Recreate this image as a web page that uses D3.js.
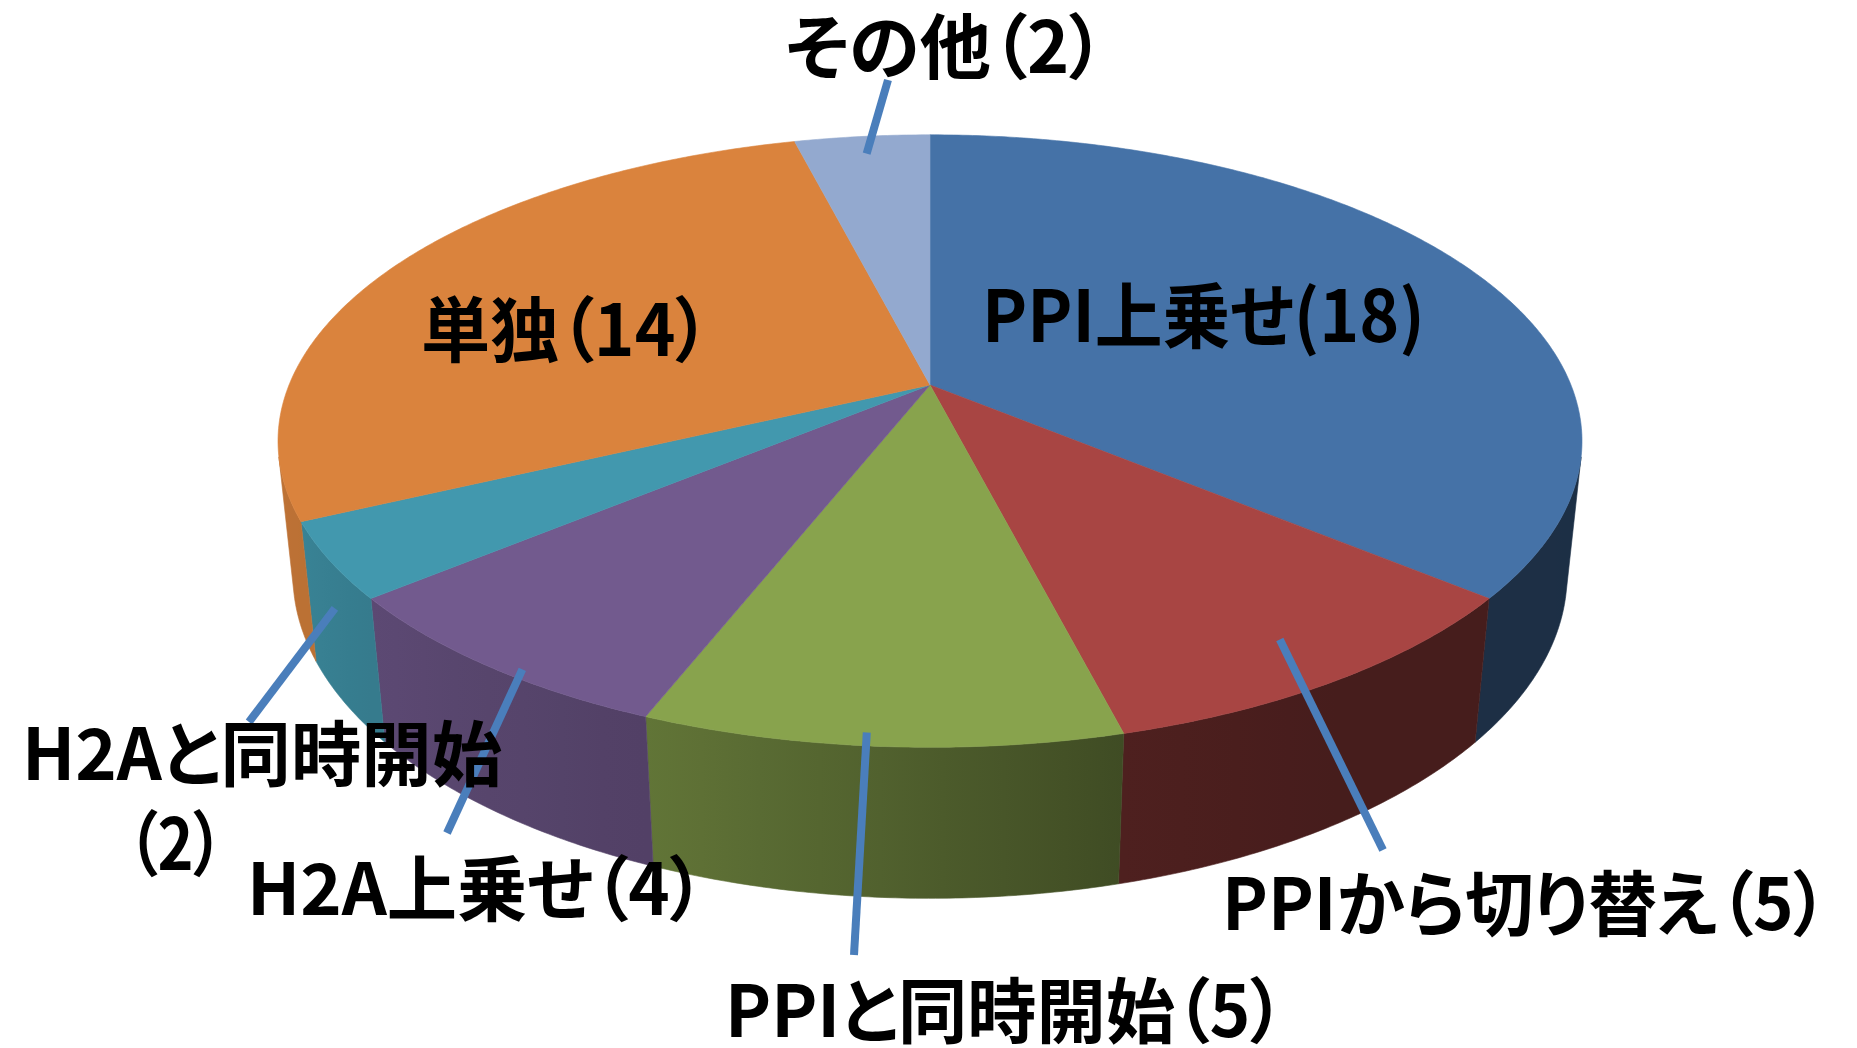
<!DOCTYPE html>
<html>
<head>
<meta charset="utf-8">
<script src="https://cdnjs.cloudflare.com/ajax/libs/d3/7.8.5/d3.min.js"></script>
<style>
  body { margin: 0; background: #fff; }
  text { font-family: "Noto Sans CJK JP", "Noto Sans", sans-serif; font-weight: 700; fill: #000; font-feature-settings: "palt"; }
</style>
</head>
<body>
<svg width="1857" height="1048"></svg>
<script>
// data, clockwise from 12 o'clock
var categories = ["PPI上乗せ", "PPIから切り替え", "PPIと同時開始", "H2A上乗せ", "H2Aと同時開始", "単独", "その他"];
var counts = [18, 5, 5, 4, 2, 14, 2];
var colors = ["#4572A7", "#A84543", "#88A34D", "#725A8E", "#4298AE", "#DA833D", "#93A9CF"];

// where each label sits (baseline x,y and width), and its leader line
var labelLayout = [
  {x: 982, y: 342, w: 443, half: true},
  {x: 1222, y: 930, w: 606, lead: {da: 0, r: 0.88, d: 0, to: [1383, 850]}},
  {x: 725, y: 1037, w: 560, lead: {da: 1.2, r: 0.97, d: 0, to: [854, 955]}},
  {x: 247, y: 915, w: 458, lead: {da: -2.5, r: 0.98, d: 0, to: [447, 833]}},
  {x: 22, y: 780, w: 480, wrap: {x: 127, y: 870, w: 97}, lead: {da: 0, r: 1, d: 0.33, to: [249, 722]}},
  {x: 421, y: 356, w: 289},
  {x: 785, y: 73, w: 320, lead: {da: 0, r: 0.92, d: 0, to: [888, 80]}}
];

var svg = d3.select("svg");
var defs = svg.append("defs");

// perspective camera, lengths in units of camera distance
var cx = 930, cy = 385,
  F = 3107, R = 0.2063, T = 0.049,
  tilt = 27.5 * Math.PI / 180;

function project(a, r, depth) {
  var X = r * R * Math.sin(a), Z = r * R * Math.cos(a), Y = -depth * T;
  var fwd = Z * Math.cos(tilt) - Y * Math.sin(tilt),
    up = Z * Math.sin(tilt) + Y * Math.cos(tilt),
    s = F / (1 + fwd);
  return [cx + X * s, cy - up * s];
}

var pie = d3.pie().sort(null).value(function(d) { return d; });
var arcs = pie(counts);
var line = d3.line();
var rad = Math.PI / 180;

// visible part of the outer wall
var visLo = Math.acos(-R / Math.cos(tilt)), visHi = 2 * Math.PI - visLo;

// wall shading by angle (degrees)
var shade = d3.scaleLinear()
  .domain([100, 150, 165, 200, 230, 245, 260])
  .range([0.41, 0.42, 0.46, 0.71, 0.81, 0.86, 0.88])
  .clamp(true);

function darken(c, f) {
  var k = d3.rgb(c);
  return d3.rgb(k.r * f, k.g * f, k.b * f).formatHex();
}

// outer walls: one path per slice, shaded with a horizontal gradient
var walls = svg.append("g").attr("class", "walls");
arcs.forEach(function(d, i) {
  var a0 = Math.max(d.startAngle, visLo), a1 = Math.min(d.endAngle, visHi);
  if (a0 >= a1) return;
  var n = Math.ceil((a1 - a0) / (0.5 * rad));
  var angles = d3.range(n + 1).map(function(j) { return a0 + (a1 - a0) * j / n; });
  var x1 = project(a0, 1, 0)[0], x2 = project(a1, 1, 0)[0];
  var grad = defs.append("linearGradient")
    .attr("id", "wall" + i)
    .attr("gradientUnits", "userSpaceOnUse")
    .attr("x1", x1).attr("x2", x2).attr("y1", 0).attr("y2", 0);
  d3.range(9).forEach(function(j) {
    var a = a0 + (a1 - a0) * j / 8;
    grad.append("stop")
      .attr("offset", (project(a, 1, 0)[0] - x1) / (x2 - x1))
      .attr("stop-color", darken(colors[i], shade(a / rad)));
  });
  var pts = angles.map(function(a) { return project(a, 1, 0); })
    .concat(angles.slice().reverse().map(function(a) { return project(a, 1, 1); }));
  walls.append("path")
    .attr("d", line(pts) + "Z")
    .attr("fill", "url(#wall" + i + ")")
    .attr("stroke", "url(#wall" + i + ")")
    .attr("stroke-width", 0.6);
});

var tops = svg.append("g").attr("class", "tops");
arcs.forEach(function(d, i) {
  var pts = [project(0, 0, 0)];
  var n = Math.ceil((d.endAngle - d.startAngle) / (0.5 * rad));
  d3.range(n + 1).forEach(function(j) {
    pts.push(project(d.startAngle + (d.endAngle - d.startAngle) * j / n, 1, 0));
  });
  tops.append("path")
    .attr("d", line(pts) + "Z")
    .attr("fill", colors[i])
    .attr("stroke", colors[i])
    .attr("stroke-width", 0.6);
});

// leader lines
var leaders = svg.append("g").attr("class", "leaders");
arcs.forEach(function(d, i) {
  var L = labelLayout[i].lead;
  if (!L) return;
  var mid = (d.startAngle + d.endAngle) / 2 + L.da * rad;
  leaders.append("path")
    .attr("d", line([project(mid, L.r, L.d), L.to]))
    .attr("stroke", "#4A7EBB")
    .attr("stroke-width", 8)
    .attr("fill", "none");
});

// labels
var labels = svg.append("g").attr("class", "labels");
function addText(x, y, w, s) {
  labels.append("text").attr("x", x).attr("y", y)
    .attr("font-size", 71)
    .attr("textLength", w).attr("lengthAdjust", "spacingAndGlyphs")
    .text(s);
}
categories.forEach(function(name, i) {
  var p = labelLayout[i];
  var num = p.half ? "(" + counts[i] + ")" : "（" + counts[i] + "）";
  if (p.wrap) {
    addText(p.x, p.y, p.w, name);
    addText(p.wrap.x, p.wrap.y, p.wrap.w, num);
  } else {
    addText(p.x, p.y, p.w, name + num);
  }
});
</script>
</body>
</html>
